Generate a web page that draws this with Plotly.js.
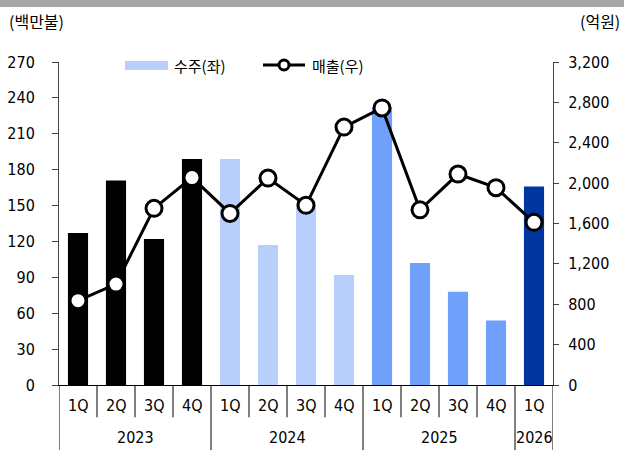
<!DOCTYPE html>
<html><head><meta charset="utf-8">
<script src="https://cdn.plot.ly/plotly-3.0.1.min.js"></script>
<style>html,body{margin:0;padding:0;background:#fff}#chart{width:624px;height:450px}</style>
</head><body><div id="chart"></div>
<script>
const quarters = ['1Q','2Q','3Q','4Q','1Q','2Q','3Q','4Q','1Q','2Q','3Q','4Q','1Q'];
const years = ['2023','2023','2023','2023','2024','2024','2024','2024','2025','2025','2025','2025','2026'];
const orders = [127, 171, 122, 189, 189, 117, 150, 92, 232, 102, 78, 54, 166];
const sales = [835, 1000, 1750, 2055, 1700, 2050, 1780, 2555, 2745, 1735, 2090, 1955, 1612];
const barColors = ['#000000','#000000','#000000','#000000','#b8cffc','#b8cffc','#b8cffc','#b8cffc','#6fa0fc','#6fa0fc','#6fa0fc','#6fa0fc','#0036a0'];
const yTicks = [0,30,60,90,120,150,180,210,240,270];
const y2Ticks = [0,400,800,1200,1600,2000,2400,2800,3200];

const FONT = '"Liberation Sans Narrow", "DejaVu Sans Condensed", "Noto Sans CJK KR", sans-serif';
const KFONT = '"Noto Sans CJK KR", sans-serif';
const idx = quarters.map((_, i) => i);

const traces = [
  {type:'bar', x: idx, y: orders, marker:{color: barColors, line:{width:0}}, width:0.53, yaxis:'y', hoverinfo:'skip'},
  {type:'scatter', mode:'lines+markers', x: idx, y: sales, yaxis:'y2', cliponaxis:false,
   line:{color:'#000', width:3}, marker:{size:16, color:'#fff', line:{color:'#000', width:3}}, hoverinfo:'skip'}
];

const shapes = [];
const annotations = [];
// top gray band
shapes.push({type:'rect', xref:'paper', yref:'paper', x0:-0.2, x1:1.2, y0:1.170, y1:1.21, fillcolor:'#a6a6a6', line:{width:0}, layer:'above'});
// quarter labels and dividers
const n = quarters.length;
quarters.forEach((q, i) => {
  annotations.push({xref:'x', yref:'paper', x:i, y:-0.062, text:q, showarrow:false, yanchor:'middle', font:{family:FONT, size:16, color:'#000'}});
});
for (let i = 0; i <= n; i++) {
  const isYearEdge = (i === 0 || i === n || years[i] !== years[i-1]);
  shapes.push({type:'line', xref:'x', yref:'paper', x0:i-0.5, x1:i-0.5, y0:0, y1: isYearEdge ? -0.21 : -0.1, line:{color:'#000', width:1}});
}
// year labels
const uniqYears = [...new Set(years)];
uniqYears.forEach(yr => {
  const pos = idx.filter(i => years[i] === yr);
  const mid = (pos[0] + pos[pos.length-1]) / 2;
  annotations.push({xref:'x', yref:'paper', x:mid, y:-0.164, text:yr, showarrow:false, yanchor:'middle', font:{family:FONT, size:16, color:'#000'}});
});
// unit titles
annotations.push({xref:'paper', yref:'paper', x:-0.106, y:1.128, xanchor:'left', yanchor:'middle', text:'(백만불)', showarrow:false, font:{family:KFONT, size:16, color:'#000'}});
annotations.push({xref:'paper', yref:'paper', x:1.14, y:1.128, xanchor:'right', yanchor:'middle', text:'(억원)', showarrow:false, font:{family:KFONT, size:16, color:'#000'}});
// legend (manual)
shapes.push({type:'rect', xref:'paper', yref:'paper', x0:(125-59)/494, x1:(168-59)/494, y0:(385-70)/323, y1:(385-61)/323, fillcolor:'#b8cffc', line:{width:0}});
annotations.push({xref:'paper', yref:'paper', x:(172-59)/494, y:(385-65)/323, xanchor:'left', yanchor:'middle', text:'수주(좌)', showarrow:false, font:{family:KFONT, size:15, color:'#000'}});
shapes.push({type:'line', xref:'paper', yref:'paper', x0:(263-59)/494, x1:(305-59)/494, y0:(385-65)/323, y1:(385-65)/323, line:{color:'#000', width:3}});
shapes.push({type:'circle', xref:'paper', yref:'paper', x0:(279-59)/494, x1:(289-59)/494, y0:(385-70)/323, y1:(385-60)/323, fillcolor:'#fff', line:{color:'#000', width:3}});
annotations.push({xref:'paper', yref:'paper', x:(310-59)/494, y:(385-65)/323, xanchor:'left', yanchor:'middle', text:'매출(우)', showarrow:false, font:{family:KFONT, size:15, color:'#000'}});

const layout = {
  width:624, height:450,
  margin:{l:59, r:71, t:62, b:65},
  paper_bgcolor:'#fff', plot_bgcolor:'#fff',
  showlegend:false,
  font:{family:FONT, size:16, color:'#000'},
  xaxis:{range:[-0.5, n-0.5], showticklabels:false, ticks:'', showgrid:false, zeroline:false,
         showline:true, linecolor:'#000', linewidth:1, fixedrange:true},
  yaxis:{range:[0,270], tickvals:yTicks, ticktext:yTicks.map(String), ticks:'outside', ticklen:6, tickcolor:'#444',
         ticklabelstandoff:14,
         showline:true, linecolor:'#444', linewidth:1, showgrid:false, zeroline:false, tickfont:{family:FONT, size:16}},
  yaxis2:{range:[0,3200], overlaying:'y', side:'right', tickvals:y2Ticks, ticktext:y2Ticks.map(v => v.toLocaleString('en-US')),
          ticks:'outside', ticklen:5, tickcolor:'#444', ticklabelstandoff:6, showline:true, linecolor:'#444', linewidth:1, showgrid:false, zeroline:false,
          tickfont:{family:FONT, size:16}},
  shapes, annotations
};
Plotly.newPlot('chart', traces, layout, {staticPlot:true, displayModeBar:false});
</script></body></html>
